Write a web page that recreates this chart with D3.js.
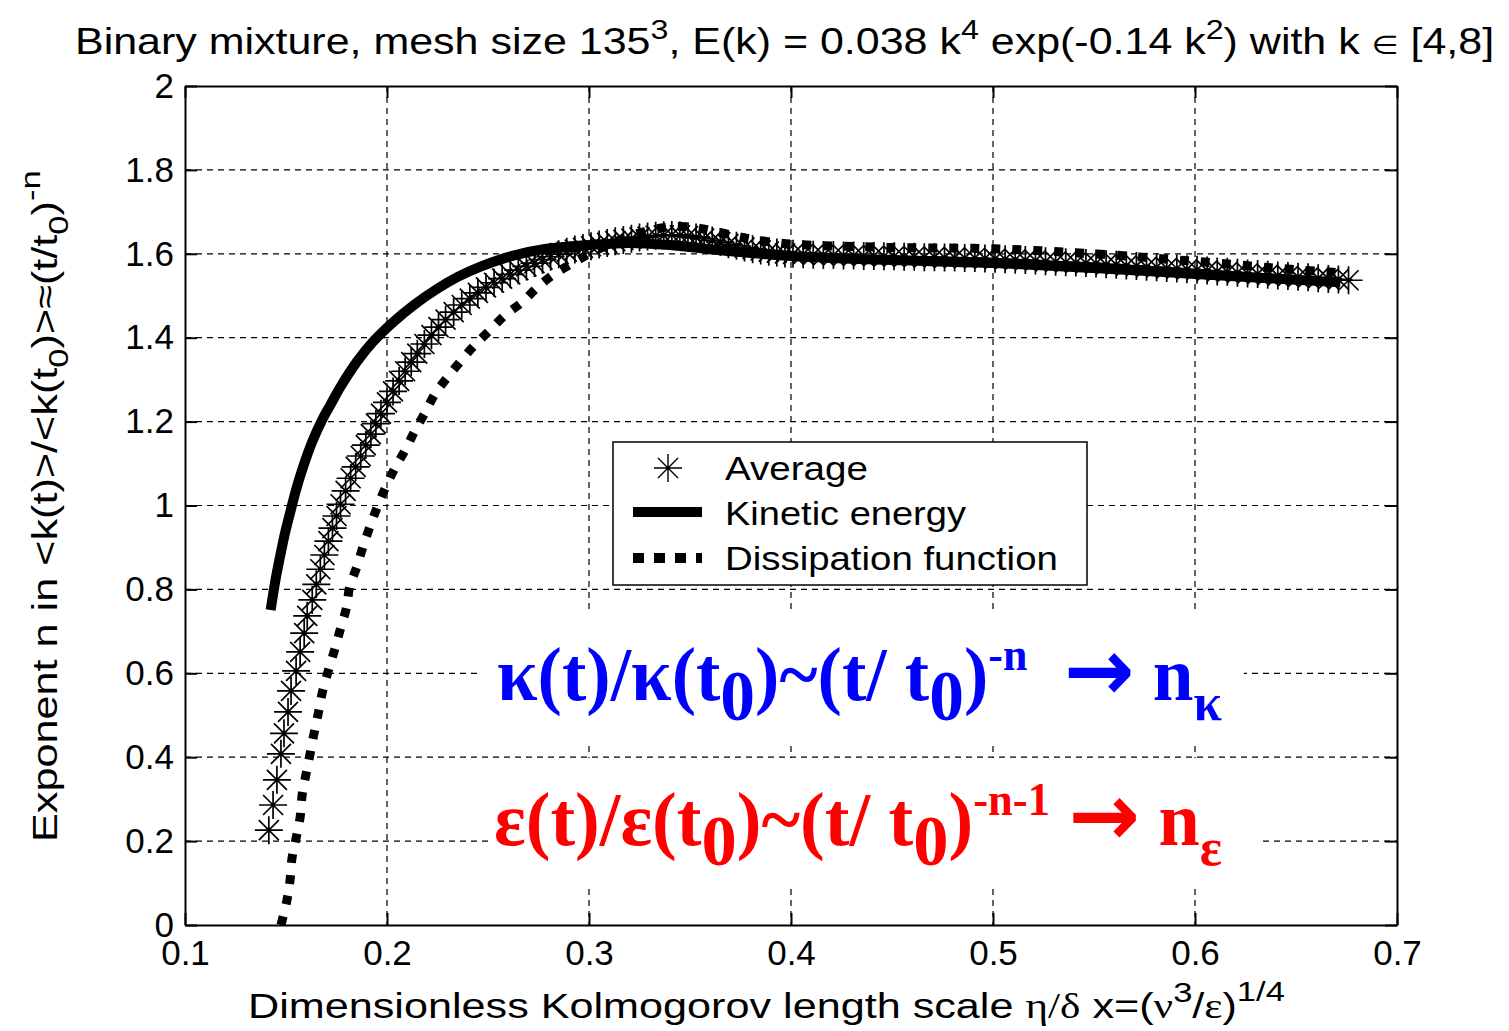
<!DOCTYPE html>
<html>
<head>
<meta charset="utf-8">
<script src="https://cdn.jsdelivr.net/npm/d3@7"></script>
<style>
body { margin: 0; background: #fff; }
svg text { font-family: "Liberation Sans", Arial, sans-serif; white-space: pre; }
</style>
</head>
<body>
<svg id="chart" width="1509" height="1031"></svg>
<script>
// tick values and labels
var xTicks = [0.1, 0.2, 0.3, 0.4, 0.5, 0.6, 0.7];
var xTickLabels = ["0.1", "0.2", "0.3", "0.4", "0.5", "0.6", "0.7"];
var yTicks = [0, 0.2, 0.4, 0.6, 0.8, 1, 1.2, 1.4, 1.6, 1.8, 2];
var yTickLabels = ["0", "0.2", "0.4", "0.6", "0.8", "1", "1.2", "1.4", "1.6", "1.8", "2"];
var legendNames = ["Average", "Kinetic energy", "Dissipation function"];

// Kinetic energy exponent (solid)
var kinetic = [
  [0.1424, 0.751], [0.1447, 0.82], [0.147, 0.877], [0.1495, 0.934], [0.152, 0.982],
  [0.155, 1.038], [0.158, 1.085], [0.163, 1.152], [0.168, 1.205], [0.172, 1.24], [0.177, 1.283],
  [0.185, 1.342], [0.193, 1.39], [0.203, 1.437], [0.213, 1.477], [0.225, 1.517],
  [0.235, 1.545], [0.246, 1.569], [0.262, 1.595], [0.279, 1.612], [0.30, 1.621],
  [0.32, 1.626], [0.34, 1.621], [0.36, 1.611], [0.38, 1.602], [0.40, 1.595],
  [0.45, 1.585], [0.50, 1.578], [0.55, 1.566], [0.60, 1.552], [0.65, 1.538], [0.672, 1.532]
];

// Dissipation function exponent (dotted)
var dissipation = [
  [0.1475, 0.0], [0.1505, 0.06], [0.152, 0.107], [0.153, 0.16], [0.155, 0.207],
  [0.157, 0.257], [0.158, 0.31], [0.160, 0.362], [0.162, 0.41], [0.164, 0.46],
  [0.166, 0.505], [0.168, 0.555], [0.171, 0.607], [0.174, 0.655], [0.177, 0.707],
  [0.180, 0.758], [0.1815, 0.806], [0.185, 0.853], [0.188, 0.90], [0.1915, 0.949],
  [0.195, 0.994], [0.199, 1.04], [0.204, 1.09], [0.209, 1.132], [0.214, 1.18],
  [0.219, 1.223], [0.224, 1.268], [0.23, 1.306], [0.237, 1.347], [0.2435, 1.383],
  [0.251, 1.418], [0.2585, 1.454], [0.267, 1.485], [0.274, 1.518], [0.282, 1.549],
  [0.292, 1.578], [0.30, 1.60], [0.31, 1.622], [0.32, 1.642], [0.33, 1.656],
  [0.34, 1.664], [0.35, 1.664], [0.36, 1.656], [0.37, 1.645], [0.38, 1.635],
  [0.39, 1.628], [0.40, 1.623], [0.45, 1.615], [0.50, 1.612], [0.55, 1.60],
  [0.60, 1.582], [0.65, 1.562], [0.672, 1.555]
];

// Average exponent (asterisks)
var average = [
  [0.1415, 0.226], [0.1436, 0.286], [0.1455, 0.346], [0.1475, 0.408], [0.149, 0.457],
  [0.151, 0.508], [0.1525, 0.558], [0.155, 0.606], [0.157, 0.651], [0.159, 0.696],
  [0.1605, 0.737], [0.163, 0.775], [0.165, 0.812], [0.167, 0.848], [0.169, 0.882],
  [0.171, 0.915], [0.173, 0.946], [0.175, 0.975], [0.177, 1.003], [0.1795, 1.035],
  [0.182, 1.065], [0.1845, 1.092], [0.187, 1.118], [0.1895, 1.144], [0.192, 1.17],
  [0.1945, 1.195], [0.197, 1.219], [0.200, 1.246], [0.203, 1.272], [0.206, 1.297],
  [0.209, 1.32], [0.212, 1.342], [0.215, 1.362], [0.2185, 1.385], [0.222, 1.406],
  [0.2255, 1.425], [0.229, 1.443], [0.233, 1.461], [0.237, 1.478], [0.241, 1.493],
  [0.245, 1.507], [0.249, 1.52], [0.253, 1.531], [0.257, 1.541], [0.261, 1.551],
  [0.265, 1.561], [0.269, 1.57], [0.273, 1.578], [0.277, 1.586], [0.281, 1.593],
  [0.285, 1.599], [0.289, 1.605], [0.293, 1.61], [0.297, 1.614], [0.301, 1.618],
  [0.305, 1.622], [0.309, 1.626], [0.313, 1.63], [0.317, 1.633], [0.321, 1.636],
  [0.325, 1.639], [0.329, 1.641], [0.333, 1.643], [0.337, 1.644], [0.341, 1.645],
  [0.345, 1.644], [0.349, 1.642], [0.353, 1.639], [0.357, 1.636], [0.361, 1.632],
  [0.365, 1.628], [0.369, 1.623], [0.373, 1.619], [0.377, 1.615], [0.381, 1.611],
  [0.385, 1.608], [0.389, 1.605], [0.393, 1.603], [0.397, 1.601], [0.401, 1.60],
  [0.406, 1.599], [0.411, 1.598], [0.416, 1.597], [0.421, 1.597], [0.426, 1.596],
  [0.431, 1.596], [0.436, 1.595], [0.441, 1.595], [0.446, 1.594], [0.451, 1.594],
  [0.456, 1.593], [0.461, 1.593], [0.466, 1.592], [0.471, 1.592], [0.476, 1.591],
  [0.481, 1.591], [0.486, 1.59], [0.491, 1.59], [0.496, 1.589], [0.501, 1.588],
  [0.506, 1.587], [0.511, 1.586], [0.516, 1.585], [0.521, 1.584], [0.526, 1.582],
  [0.531, 1.581], [0.536, 1.58], [0.541, 1.579], [0.546, 1.578], [0.551, 1.577],
  [0.556, 1.575], [0.561, 1.574], [0.566, 1.572], [0.571, 1.571], [0.576, 1.569],
  [0.581, 1.568], [0.586, 1.566], [0.591, 1.565], [0.596, 1.563], [0.601, 1.562],
  [0.606, 1.56], [0.611, 1.558], [0.616, 1.557], [0.621, 1.555], [0.626, 1.553],
  [0.631, 1.552], [0.636, 1.55], [0.641, 1.548], [0.646, 1.547], [0.651, 1.545],
  [0.656, 1.544], [0.661, 1.542], [0.666, 1.54], [0.671, 1.539], [0.676, 1.537]
];

var svg = d3.select("#chart"),
    margin = {top: 86, right: 112, bottom: 106, left: 185},
    width = 1509 - margin.left - margin.right,
    height = 1031 - margin.top - margin.bottom,
    g = svg.append("g").attr("transform", "translate(" + margin.left + "," + margin.top + ")");

var x = d3.scaleLinear().domain([0.1, 0.7]).range([0, width]),
    y = d3.scaleLinear().domain([0, 2]).range([height, 0]);

// text with super/subscripts, squeezed to a target width
function rich(parent, parts, o) {
  var t = parent.append("text")
    .attr("font-size", o.size)
    .attr("font-weight", o.weight || "normal")
    .attr("fill", o.fill || "#000");
  if (o.family) t.style("font-family", o.family);
  var shift = 0;
  parts.forEach(function(p) {
    var target = p.s == "sup" ? -o.size * (p.up || 0.45) : p.s == "sub" ? o.size * (p.down || 0.25) : 0;
    var ts = t.append("tspan").text(p.t).attr("dy", target - shift);
    if (p.k) ts.attr("font-size", o.size * p.k);
    else if (p.s) ts.attr("font-size", o.size * 0.75);
    if (p.f) ts.style("font-family", p.f);
    shift = target;
  });
  var w = t.node().getComputedTextLength();
  var sx = o.width ? o.width / w : 1;
  var dx = o.anchor == "middle" ? -w * sx / 2 : 0;
  t.attr("transform", "translate(" + o.x + "," + o.y + ")" + (o.rotate ? " rotate(" + o.rotate + ")" : "") +
    " translate(" + dx + ",0) scale(" + sx + ",1)");
  return t;
}

// grid
g.append("g").selectAll("line").data(xTicks.slice(1, -1)).enter().append("line")
  .attr("x1", function(d) { return x(d); }).attr("x2", function(d) { return x(d); })
  .attr("y1", 0).attr("y2", height)
  .attr("stroke", "#000").attr("stroke-width", 1.2).attr("stroke-dasharray", "6,5");
g.append("g").selectAll("line").data(yTicks.slice(1, -1)).enter().append("line")
  .attr("y1", function(d) { return y(d); }).attr("y2", function(d) { return y(d); })
  .attr("x1", 0).attr("x2", width)
  .attr("stroke", "#000").attr("stroke-width", 1.2).attr("stroke-dasharray", "6,5");

svg.append("defs").append("clipPath").attr("id", "clip")
  .append("rect").attr("width", width).attr("height", height);

var plot = g.append("g").attr("clip-path", "url(#clip)");

var line = d3.line()
  .x(function(d) { return x(d[0]); })
  .y(function(d) { return y(d[1]); })
  .curve(d3.curveCatmullRom.alpha(0.5));

plot.append("path").datum(dissipation)
  .attr("d", line)
  .attr("fill", "none").attr("stroke", "#000")
  .attr("stroke-width", 9).attr("stroke-dasharray", "9,12");

plot.append("path").datum(kinetic)
  .attr("d", line)
  .attr("fill", "none").attr("stroke", "#000")
  .attr("stroke-width", 10).attr("stroke-linejoin", "round");

var star = "M-14,0H14M0,-14V14M-10,-10L10,10M-10,10L10,-10";
plot.append("g").selectAll("path").data(average).enter().append("path")
  .attr("d", star)
  .attr("transform", function(d) { return "translate(" + x(d[0]) + "," + y(d[1]) + ")"; })
  .attr("fill", "none").attr("stroke", "#000").attr("stroke-width", 1.7);

// axes with inward ticks
var fs = 35;
var ax = g.append("g").attr("transform", "translate(0," + height + ")")
  .call(d3.axisBottom(x).tickValues(xTicks).tickSize(-12).tickSizeOuter(0).tickPadding(15)
    .tickFormat(function(d, i) { return xTickLabels[i]; }));
var ay = g.append("g")
  .call(d3.axisLeft(y).tickValues(yTicks).tickSize(-12).tickSizeOuter(0).tickPadding(11)
    .tickFormat(function(d, i) { return yTickLabels[i]; }));
var at = g.append("g")
  .call(d3.axisTop(x).tickValues(xTicks).tickSize(-12).tickSizeOuter(0).tickFormat(""));
var ar = g.append("g").attr("transform", "translate(" + width + ",0)")
  .call(d3.axisRight(y).tickValues(yTicks).tickSize(-12).tickSizeOuter(0).tickFormat(""));
[ax, ay, at, ar].forEach(function(a) {
  a.selectAll("path,line").attr("stroke", "#000").attr("stroke-width", 2);
  a.selectAll("text").attr("font-size", fs).attr("fill", "#000")
    .style("font-family", "'Liberation Sans', Arial, sans-serif");
});

// legend
var lg = svg.append("g");
lg.append("rect").attr("x", 613).attr("y", 442).attr("width", 474).attr("height", 143)
  .attr("fill", "#fff").attr("stroke", "#000").attr("stroke-width", 1.5);
lg.append("path").attr("d", star).attr("transform", "translate(668,468)")
  .attr("fill", "none").attr("stroke", "#000").attr("stroke-width", 1.4);
lg.append("line").attr("x1", 633).attr("x2", 702).attr("y1", 512).attr("y2", 512)
  .attr("stroke", "#000").attr("stroke-width", 10);
lg.append("line").attr("x1", 633).attr("x2", 702).attr("y1", 558).attr("y2", 558)
  .attr("stroke", "#000").attr("stroke-width", 10).attr("stroke-dasharray", "11,10");
var legY = [480, 525, 570], legW = [143, 241, 333];
legendNames.forEach(function(n, i) {
  rich(lg, [{t: n}], {x: 725, y: legY[i], size: 34, width: legW[i]});
});

// title
rich(svg, [
  {t: "Binary mixture, mesh size 135"}, {t: "3", s: "sup", k: 0.75, up: 0.42},
  {t: ", E(k) = 0.038 k"}, {t: "4", s: "sup", k: 0.75, up: 0.42},
  {t: " exp(-0.14 k"}, {t: "2", s: "sup", k: 0.75, up: 0.42},
  {t: ") with k "}, {t: "\u2208", f: "'DejaVu Sans'", k: 0.72}, {t: " [4,8]"}
], {x: 75, y: 54, size: 36, width: 1420});

// x label
var serif = "'Liberation Serif', 'Times New Roman', serif";
rich(svg, [
  {t: "Dimensionless Kolmogorov length scale "}, {t: "\u03b7/\u03b4", f: serif},
  {t: " x=("}, {t: "\u03bd", f: serif}, {t: "3", s: "sup", k: 0.8, up: 0.45},
  {t: "/"}, {t: "\u03b5", f: serif}, {t: ")"}, {t: "1/4", s: "sup", k: 0.8, up: 0.5}
], {x: 248, y: 1018, size: 35, width: 1037});

// y label
rich(svg, [
  {t: "Exponent n in <k(t)>/<k(t"}, {t: "0", s: "sub", k: 0.8, down: 0.3},
  {t: ")>\u2248(t/t"}, {t: "0", s: "sub", k: 0.8, down: 0.3},
  {t: ")"}, {t: "-n", s: "sup", k: 0.8, up: 0.5}
], {x: 57, y: 842, size: 35, width: 672, rotate: -90});

// annotations on white boxes
function note(parts, o) {
  var gg = svg.append("g");
  var box = gg.append("rect").attr("fill", "#fff");
  var t = rich(gg, parts, o);
  var b = t.node().getBoundingClientRect();
  box.attr("x", b.left - o.padL).attr("y", b.top - 6)
    .attr("width", b.width + o.padL + o.padR).attr("height", b.height + 12);
}
var bold = "'Liberation Serif', 'Times New Roman', serif";
var arrowFont = "'DejaVu Sans', sans-serif";
note([
  {t: "\u03ba(t)/\u03ba(t"}, {t: "0", s: "sub", k: 0.95, down: 0.26},
  {t: ")~(t/ t"}, {t: "0", s: "sub", k: 0.95, down: 0.26},
  {t: ")"}, {t: "-n", s: "sup", k: 0.6, up: 0.4},
  {t: "  "}, {t: "\u2192", f: arrowFont, k: 1.15}, {t: " n"}, {t: "\u03ba", s: "sub", k: 0.7, down: 0.26}
], {x: 497, y: 700, size: 76, weight: "bold", fill: "#0000ff", family: bold, width: 725, padL: 15, padR: 22});
note([
  {t: "\u03b5(t)/\u03b5(t"}, {t: "0", s: "sub", k: 0.95, down: 0.26},
  {t: ")~(t/ t"}, {t: "0", s: "sub", k: 0.95, down: 0.26},
  {t: ")"}, {t: "-n-1", s: "sup", k: 0.6, up: 0.4},
  {t: " "}, {t: "\u2192", f: arrowFont, k: 1.15}, {t: " n"}, {t: "\u03b5", s: "sub", k: 0.7, down: 0.26}
], {x: 494, y: 845, size: 76, weight: "bold", fill: "#ff0000", family: bold, width: 728, padL: 6, padR: 40});
</script>
</body>
</html>
